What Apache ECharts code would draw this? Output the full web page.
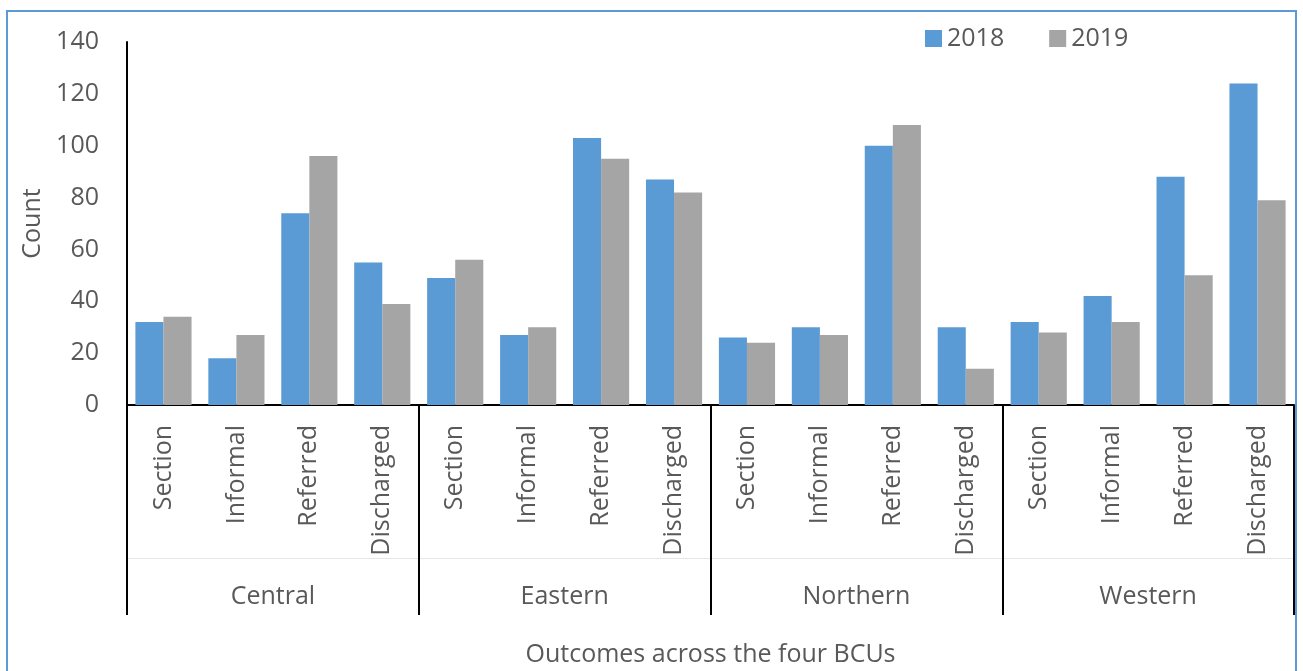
<!DOCTYPE html>
<html><head><meta charset="utf-8">
<script src="https://cdn.jsdelivr.net/npm/echarts@6/dist/echarts.min.js"></script>
<style>html,body{margin:0;padding:0;background:#fff}#c{width:1303px;height:671px}</style>
</head><body><div id="c"></div>
<script>
const groups = ['Central', 'Eastern', 'Northern', 'Western'];
const outcomes = ['Section', 'Informal', 'Referred', 'Discharged'];
const values2018 = [32, 18, 74, 55, 49, 27, 103, 87, 26, 30, 100, 30, 32, 42, 88, 124];
const values2019 = [34, 27, 96, 39, 56, 30, 95, 82, 24, 27, 108, 14, 28, 32, 50, 79];
const yTicks = { min: 0, max: 140, interval: 20 };

const categories = [];
groups.forEach(() => outcomes.forEach(o => categories.push(o)));

const font = '"Open Sans", sans-serif';
const txt = '#595959';
const fs = 25;
const chart = echarts.init(document.getElementById('c'));
chart.setOption({
  animation: false,
  textStyle: { fontFamily: font },
  graphic: [{ type: 'rect', shape: { x: 7, y: 11, width: 1289, height: 700 }, style: { fill: 'none', stroke: '#5b9bd5', lineWidth: 2 }, silent: true }],
  legend: {
    data: ['2018', '2019'], left: 920, top: 21, icon: 'rect', itemWidth: 17, itemHeight: 17, itemGap: 45,
    textStyle: { fontSize: fs, color: txt, fontFamily: font }
  },
  grid: { left: 127, right: 9, top: 42, bottom: 266, outerBoundsMode: 'none', containLabel: false },
  xAxis: [
    {
      type: 'category', data: categories, position: 'bottom',
      axisLine: { lineStyle: { color: '#000', width: 2 } },
      axisTick: { show: false },
      axisLabel: { interval: 0, rotate: 90, margin: 20, fontSize: fs, color: txt, fontFamily: font }
    },
    {
      type: 'category', data: groups, position: 'bottom',
      axisLine: { show: false },
      axisTick: { show: true, length: 210, interval: 0, lineStyle: { color: '#000', width: 2 } },
      axisLabel: { interval: 0, margin: 179, fontSize: fs, color: txt, fontFamily: font },
      name: 'Outcomes across the four BCUs', nameLocation: 'middle', nameGap: 237,
      nameTextStyle: { fontSize: fs, color: txt, fontFamily: font }
    },
    {
      type: 'category', data: groups, position: 'bottom', offset: 153,
      axisLine: { show: true, lineStyle: { color: '#e6e6e6', width: 1 } },
      axisTick: { show: false }, axisLabel: { show: false }
    }
  ],
  yAxis: {
    type: 'value', min: yTicks.min, max: yTicks.max, interval: yTicks.interval,
    axisLine: { show: true, lineStyle: { color: '#000', width: 2 } },
    axisTick: { show: false }, splitLine: { show: false },
    axisLabel: { fontSize: fs, color: txt, margin: 28, fontFamily: font },
    name: 'Count', nameLocation: 'middle', nameGap: 82,
    nameTextStyle: { fontSize: fs, color: txt, fontFamily: font }
  },
  series: [
    { name: '2018', type: 'bar', data: values2018, barGap: '0%', barCategoryGap: '23%', itemStyle: { color: '#5b9bd5' } },
    { name: '2019', type: 'bar', data: values2019, itemStyle: { color: '#a5a5a5' } }
  ]
});
</script></body></html>
